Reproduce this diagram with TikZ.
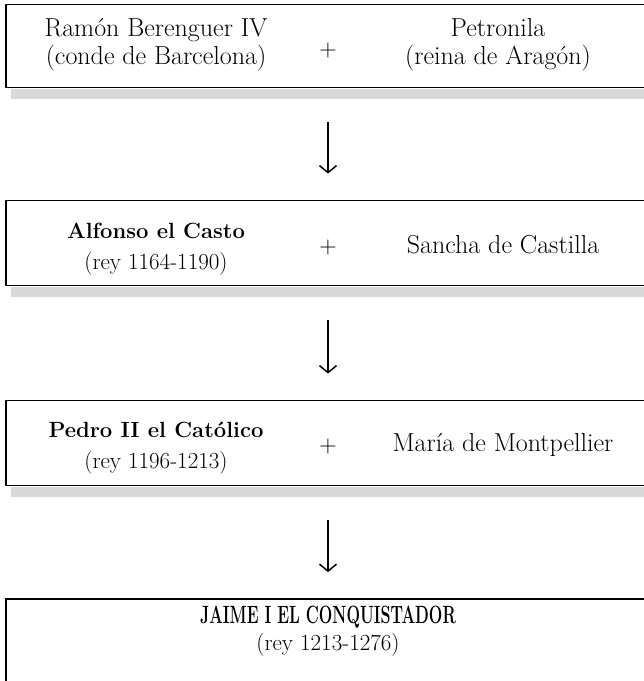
\documentclass[tikz,border=0pt]{standalone}
\usepackage{fontspec}
\usetikzlibrary{arrows.meta, calc}

\newcommand{\reign}[1]{{\fontsize{23}{28}\selectfont(rey #1)}}
\newcommand{\kingname}[1]{{\fontsize{22}{28}\selectfont\bfseries #1}}

\begin{document}
\begin{tikzpicture}[x=1pt, y=-1pt,
  famrow/.style={draw=black, line width=1.8pt, fill=white, minimum width=644pt, minimum height=85pt},
  who/.style={align=center, font=\fontsize{26}{28}\selectfont},
  plus/.style={font=\fontsize{24}{26}\selectfont},
  descent/.style={line width=1.5pt, -{Straight Barb[length=7pt,width=17pt]}, shorten <=34pt, shorten >=26pt}]
\useasboundingbox (0,0) rectangle (644,681);

% the four generations
\node [famrow, minimum height=83pt] (r1) at (328,46) {};
\node [famrow] (r2) at (328,243) {};
\node [famrow] (r3) at (328,443) {};
\node [famrow, minimum height=110pt] (r4) at (328,654) {};

% grey shadows under the boxes
\foreach \r in {r1,r2,r3}
  \fill [black!15] ($(\r.south west)+(6,1)$) rectangle ($(\r.south east)+(6,11)$);

\node [who] (ramon) at (156,45) {Ramón Berenguer IV\\(conde de Barcelona)};
\node [plus] (p1) at (328,51) {+};
\node [who] (petronila) at (498,45) {Petronila\\(reina de Aragón)};

\node [who] (alfonso) at (156,249) {\kingname{Alfonso el Casto}\\[3pt]\reign{1164-1190}};
\node [plus] (p2) at (328,248) {+};
\node [who] (sancha) at (503,245) {Sancha de Castilla};

\node [who] (pedro) at (156,448) {\kingname{Pedro II el Católico}\\[3pt]\reign{1196-1213}};
\node [plus] (p3) at (328,447) {+};
\node [who] (maria) at (503,445) {María de Montpellier};

\node [who] (jaime) at (328,631) {\scalebox{0.64}[1]{\fontsize{25}{28}\selectfont\bfseries JAIME I EL CONQUISTADOR}\\[-1pt]\reign{1213-1276}};

\draw [descent] (r1.south) -- (r2.north);
\draw [descent] (r2.south) -- (r3.north);
\draw [descent] (r3.south) -- (r4.north);
\end{tikzpicture}
\end{document}
